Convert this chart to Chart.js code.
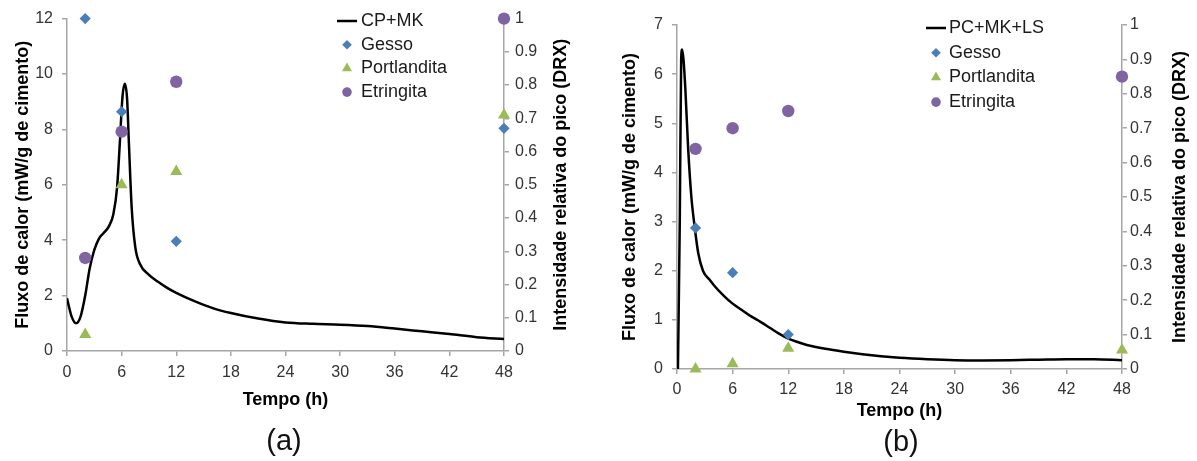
<!DOCTYPE html>
<html>
<head>
<meta charset="utf-8">
<script src="https://cdn.jsdelivr.net/npm/chart.js@4/dist/chart.umd.min.js"></script>
<style>
  body { margin: 0; background: #fff; }
  #wrap { position: relative; width: 1197px; height: 461px; font-family: "Liberation Sans", Arial, sans-serif; }
  canvas { position: absolute; top: 0; }
  .cap { position: absolute; font-size: 29px; color: #111; transform: translate(-50%, -50%); }
</style>
</head>
<body>
<div id="wrap">
  <canvas id="chartA" width="598" height="461" style="left:0"></canvas>
  <canvas id="chartB" width="597" height="461" style="left:600px"></canvas>
  <div class="cap" style="left:284px; top:440px">(a)</div>
  <div class="cap" style="left:901px; top:441px">(b)</div>
</div>
<script>
// fluxo de calor (a) CP+MK
var horasA = [0, 0.5, 1.0, 1.5, 2.0, 2.5, 3.0, 3.5, 4.0, 4.6, 5.1, 5.5, 5.8, 6.1, 6.35, 6.6, 6.8, 7.1, 7.5, 8.0, 9.0, 10, 11, 12, 14, 16, 18, 21, 24, 27, 30, 33, 36, 39, 42, 45, 48];
var fluxoA = [1.9, 1.25, 1.0, 1.25, 2.0, 3.0, 3.65, 4.05, 4.25, 4.5, 4.95, 5.9, 7.5, 9.2, 9.65, 9.1, 7.5, 5.2, 3.75, 3.15, 2.75, 2.5, 2.28, 2.1, 1.8, 1.55, 1.37, 1.17, 1.03, 0.98, 0.95, 0.9, 0.81, 0.71, 0.61, 0.5, 0.43];

// fluxo de calor (b) PC+MK+LS
var horasB = [0.1, 0.3, 0.45, 0.55, 0.7, 0.9, 1.2, 1.55, 1.9, 2.3, 2.8, 3.5, 4, 5, 6, 7, 8, 9, 10, 11, 12, 13, 14, 16, 18, 20, 22, 24, 27, 30, 33, 36, 39, 42, 45, 48];
var fluxoB = [0, 3.0, 6.3, 6.5, 6.3, 5.7, 4.5, 3.5, 2.9, 2.35, 2.0, 1.82, 1.7, 1.5, 1.33, 1.2, 1.07, 0.96, 0.84, 0.72, 0.62, 0.55, 0.49, 0.41, 0.35, 0.3, 0.26, 0.23, 0.2, 0.18, 0.175, 0.18, 0.19, 0.2, 0.2, 0.18];

// DRX
var tempoDRX = [2, 6, 12, 48];
var gessoA = [1.0, 0.72, 0.33, 0.67];
var portlanditaA = [0.05, 0.5, 0.54, 0.71];
var etringitaA = [0.28, 0.66, 0.81, 1.0];
var gessoB = [0.41, 0.28, 0.10, null];
var portlanditaB = [0.0, 0.015, 0.06, 0.055];
var etringitaB = [0.64, 0.70, 0.75, 0.85];

var ticksX = [0, 6, 12, 18, 24, 30, 36, 42, 48];
var ticksFluxoA = [0, 2, 4, 6, 8, 10, 12];
var ticksFluxoB = [0, 1, 2, 3, 4, 5, 6, 7];
var ticksDRX = [0, 0.1, 0.2, 0.3, 0.4, 0.5, 0.6, 0.7, 0.8, 0.9, 1];

var FONT = '"Liberation Sans", Arial, sans-serif';
var AXIS = '#a6a6a6';

function pares(xs, ys) {
    var out = [];
    for (var i = 0; i < xs.length; i++) {
        if (ys[i] !== null) out.push({x: xs[i], y: ys[i]});
    }
    return out;
}

function simbolo(ctx, estilo, x, y, r) {
    ctx.beginPath();
    if (estilo === 'rectRot') {
        ctx.moveTo(x - r, y); ctx.lineTo(x, y - r); ctx.lineTo(x + r, y); ctx.lineTo(x, y + r);
    } else if (estilo === 'triangle') {
        ctx.moveTo(x, y - r);
        ctx.lineTo(x + r * 0.866, y + r * 0.5);
        ctx.lineTo(x - r * 0.866, y + r * 0.5);
    } else {
        ctx.arc(x, y, r, 0, Math.PI * 2);
    }
    ctx.closePath();
    ctx.fill();
}

// legenda fixa + titulo do eixo direito (lido de baixo para cima)
var extras = {
    id: 'extras',
    afterDraw: function (chart, args, o) {
        var ctx = chart.ctx;
        ctx.save();
        ctx.font = '18px ' + FONT;
        ctx.textBaseline = 'middle';
        chart.data.datasets.forEach(function (ds, i) {
            var y = o.y + i * o.gap;
            if (ds.showLine) {
                ctx.strokeStyle = ds.borderColor;
                ctx.lineWidth = 2.5;
                ctx.beginPath();
                ctx.moveTo(o.x - 10, y); ctx.lineTo(o.x + 10, y);
                ctx.stroke();
            } else {
                ctx.fillStyle = ds.backgroundColor;
                simbolo(ctx, ds.pointStyle, o.x, y, ds.pointStyle === 'triangle' ? 5.8 : 4.8);
            }
            ctx.fillStyle = '#1a1a1a';
            ctx.fillText(ds.label, o.textX, y);
        });
        var a = chart.chartArea;
        ctx.translate(a.right + o.titleOff, (a.top + a.bottom) / 2);
        ctx.rotate(-Math.PI / 2);
        ctx.font = 'bold 18px ' + FONT;
        ctx.textAlign = 'center';
        ctx.fillStyle = '#000';
        ctx.fillText('Intensidade relativa do pico (DRX)', 0, 0);
        ctx.restore();
    }
};

function montar(id, cfg) {
    var datasets = [
        {
            label: cfg.nome, type: 'line', data: pares(cfg.horas, cfg.fluxo), yAxisID: 'y',
            showLine: true, borderColor: '#000', borderWidth: 2.5, pointRadius: 0,
            cubicInterpolationMode: 'monotone', fill: false, order: 5
        },
        {
            label: 'Gesso', data: pares(tempoDRX, cfg.gesso), yAxisID: 'y1', showLine: false,
            pointStyle: 'rectRot', pointRadius: 5.6, backgroundColor: '#4a7ebb', borderWidth: 0, clip: false
        },
        {
            label: 'Portlandita', data: pares(tempoDRX, cfg.portlandita), yAxisID: 'y1', showLine: false,
            pointStyle: 'triangle', pointRadius: 7, backgroundColor: '#9bbb59', borderWidth: 0, clip: false
        },
        {
            label: 'Etringita', data: pares(tempoDRX, cfg.etringita), yAxisID: 'y1', showLine: false,
            pointStyle: 'circle', pointRadius: 6.2, backgroundColor: '#8064a2', borderWidth: 0, clip: false
        }
    ];

    var grade = {display: true, drawOnChartArea: false, drawTicks: true, tickLength: 5, color: AXIS, lineWidth: 1.5};
    var borda = {display: true, color: AXIS, width: 1.5};

    new Chart(document.getElementById(id), {
        type: 'scatter',
        data: {datasets: datasets},
        options: {
            responsive: false,
            animation: false,
            layout: {padding: {left: 0, right: 0, top: cfg.top, bottom: cfg.bottom}},
            plugins: {
                legend: {display: false},
                tooltip: {enabled: false},
                extras: cfg.legenda
            },
            scales: {
                x: {
                    type: 'linear', min: 0, max: 48,
                    afterBuildTicks: function (s) { s.ticks = ticksX.map(function (v) { return {value: v}; }); },
                    afterFit: function (s) { s.height = cfg.xH; },
                    grid: grade, border: borda,
                    ticks: {color: '#333', padding: cfg.xPad, font: {size: 16, family: FONT}, callback: function (v) { return String(v); }},
                    title: {display: true, text: 'Tempo (h)', color: '#000', padding: 0, font: {size: 18, weight: 'bold', family: FONT}}
                },
                y: {
                    position: 'left', min: 0, max: cfg.yMax,
                    afterBuildTicks: function (s) { s.ticks = cfg.ticksY.map(function (v) { return {value: v}; }); },
                    afterFit: function (s) { s.width = cfg.yW; },
                    grid: grade, border: borda,
                    ticks: {color: '#333', padding: 9, font: {size: 16, family: FONT}, callback: function (v) { return String(v); }},
                    title: {display: true, text: 'Fluxo de calor (mW/g de cimento)', color: '#000', padding: {top: cfg.yTitlePad, bottom: 0}, font: {size: 18, weight: 'bold', family: FONT}}
                },
                y1: {
                    position: 'right', min: 0, max: 1,
                    afterBuildTicks: function (s) { s.ticks = ticksDRX.map(function (v) { return {value: v}; }); },
                    afterFit: function (s) { s.width = cfg.y1W; },
                    grid: grade, border: borda,
                    ticks: {color: '#333', padding: cfg.y1Pad, font: {size: 16, family: FONT}, callback: function (v) { return String(v); }},
                    title: {display: false}
                }
            }
        },
        plugins: [extras]
    });
}

montar('chartA', {
    nome: 'CP+MK', horas: horasA, fluxo: fluxoA,
    gesso: gessoA, portlandita: portlanditaA, etringita: etringitaA,
    yMax: 12, ticksY: ticksFluxoA,
    top: 17, bottom: 50, xH: 60, xPad: 7, yW: 67, y1W: 94, yTitlePad: 12, y1Pad: 6,
    legenda: {x: 347, y: 21, gap: 23.7, textX: 361, titleOff: 57}
});

montar('chartB', {
    nome: 'PC+MK+LS', horas: horasB, fluxo: fluxoB,
    gesso: gessoB, portlandita: portlanditaB, etringita: etringitaB,
    yMax: 7, ticksY: ticksFluxoB,
    top: 25, bottom: 39, xH: 53, xPad: 6, yW: 77, y1W: 75, yTitlePad: 19, y1Pad: 3,
    legenda: {x: 336, y: 28, gap: 24.7, textX: 349, titleOff: 58}
});
</script>
</body>
</html>
